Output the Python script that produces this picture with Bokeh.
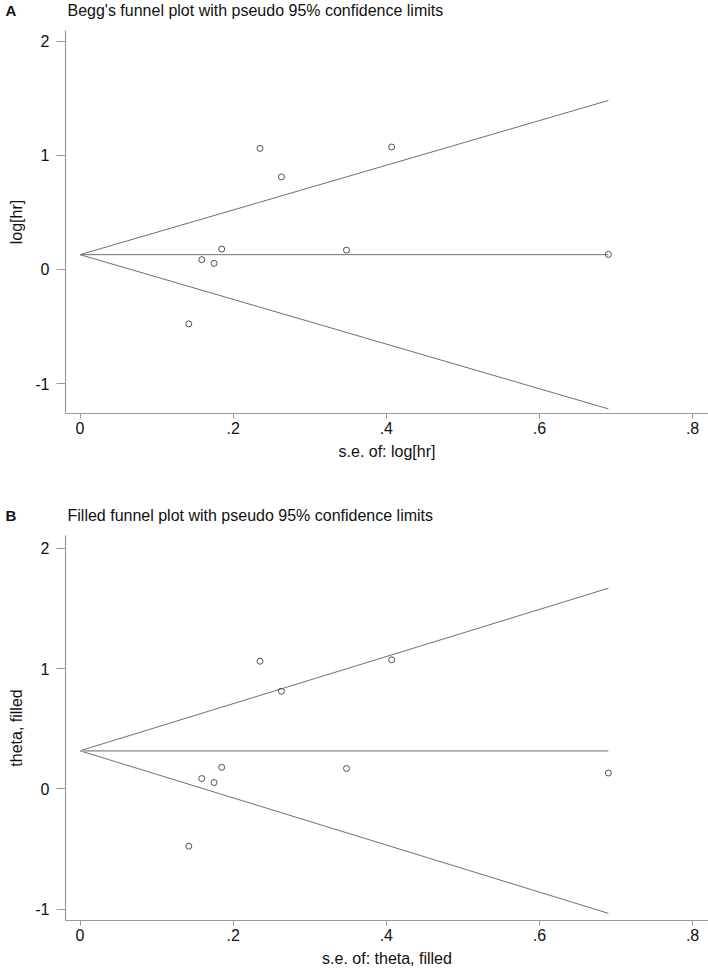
from bokeh.plotting import figure
from bokeh.layouts import column
from bokeh.models import Range1d, FixedTicker, Label
from bokeh.embed import file_html
from bokeh.resources import INLINE

# ---- data ----
se = [0.235, 0.407, 0.263, 0.185, 0.159, 0.175, 0.348, 0.142, 0.690]
log_hr = [1.062, 1.074, 0.812, 0.179, 0.086, 0.053, 0.170, -0.477, 0.132]
theta_begg = 0.13      # pooled estimate, Begg's plot
theta_filled = 0.317   # pooled estimate after trim and fill
x_ticks = [0, 0.2, 0.4, 0.6, 0.8]
x_tick_labels = ["0", ".2", ".4", ".6", ".8"]
y_ticks = [-1, 0, 1, 2]
y_tick_labels = ["-1", "0", "1", "2"]

FONT = "Liberation Sans"
W = 708
LEFT = 65          # frame left (figure px)
AXIS_GRAY = "#9a9a9a"
LINE_GRAY = "#707070"
TXT = "#111111"


def title_strip(letter, title, height, baseline_from_top):
    t = figure(width=W, height=height, output_backend="svg", toolbar_location=None,
               x_axis_type=None, y_axis_type=None, title=None,
               x_range=Range1d(0, 1), y_range=Range1d(0, 1),
               min_border_left=LEFT, min_border_right=0,
               min_border_top=0, min_border_bottom=0)
    t.outline_line_color = None
    t.grid.visible = False
    y = height - baseline_from_top
    # frame starts at x=65 (aligned with the panels); the letter sits in the left border
    t.add_layout(Label(x=-49, y=y, x_units="screen", y_units="screen", text=letter,
                       text_font=FONT, text_font_size="15px", text_font_style="bold",
                       text_color=TXT, text_baseline="alphabetic"), "left")
    t.add_layout(Label(x=2, y=y, x_units="screen", y_units="screen", text=title,
                       text_font=FONT, text_font_size="16px",
                       text_color=TXT, text_baseline="alphabetic"))
    return t


def panel(ylabel, xlabel, theta, height, border_bottom, y_range,
          hline_color, hline_width):
    p = figure(width=W, height=height, output_backend="svg", toolbar_location=None,
               title=None,
               x_range=Range1d(-0.019, 0.8208), y_range=Range1d(*y_range),
               min_border_left=LEFT, min_border_right=0,
               min_border_top=0, min_border_bottom=border_bottom)
    p.grid.visible = False
    p.outline_line_color = None
    p.background_fill_color = "white"
    p.border_fill_color = "white"

    for ax in (p.xaxis[0], p.yaxis[0]):
        ax.axis_line_color = AXIS_GRAY
        ax.axis_line_width = 1.2
        ax.major_tick_line_color = AXIS_GRAY
        ax.major_tick_in = 0
        ax.minor_tick_line_color = None
        ax.major_label_text_font = FONT
        ax.major_label_text_font_size = "16px"
        ax.major_label_text_color = TXT
        ax.axis_label_text_font = FONT
        ax.axis_label_text_font_size = "16px"
        ax.axis_label_text_font_style = "normal"
        ax.axis_label_text_color = TXT
    p.xaxis.ticker = FixedTicker(ticks=x_ticks)
    p.xaxis.major_label_overrides = {t: l for t, l in zip(x_ticks, x_tick_labels)}
    p.xaxis.major_tick_out = 5
    p.xaxis.major_label_standoff = 3
    p.xaxis.axis_label = xlabel
    p.xaxis.axis_label_standoff = 6
    p.yaxis.ticker = FixedTicker(ticks=y_ticks)
    p.yaxis.major_label_overrides = {t: l for t, l in zip(y_ticks, y_tick_labels)}
    p.yaxis.major_tick_out = 9
    p.yaxis.major_label_standoff = 7
    p.yaxis.major_label_orientation = "horizontal"
    p.yaxis.axis_label = ylabel
    p.yaxis.axis_label_standoff = 7

    se_max = max(se)
    xs = [0, se_max]
    p.line(xs, [theta, theta + 1.96 * se_max], line_color=LINE_GRAY, line_width=1)
    p.line(xs, [theta, theta - 1.96 * se_max], line_color=LINE_GRAY, line_width=1)
    p.line(xs, [theta, theta], line_color=hline_color, line_width=hline_width)
    p.scatter(se, log_hr, size=6, marker="circle", fill_color=None,
              line_color="#505050", line_width=1)
    return p


tA = title_strip("A", "Begg's funnel plot with pseudo 95% confidence limits",
                 height=30, baseline_from_top=10)
pA = panel("log[hr]", "s.e. of: log[hr]", theta_begg,
           height=460, border_bottom=77,
           y_range=(-1.263, 2.096), hline_color=LINE_GRAY, hline_width=1)
tB = title_strip("B", "Filled funnel plot with pseudo 95% confidence limits",
                 height=45, baseline_from_top=25)
pB = panel("theta, filled", "s.e. of: theta, filled", theta_filled,
           height=436, border_bottom=51,
           y_range=(-1.095, 2.108), hline_color="#a8a8a8", hline_width=1.8)

layout = column(tA, pA, tB, pB, spacing=0)
open("out.html", "w").write(file_html(layout, INLINE))
